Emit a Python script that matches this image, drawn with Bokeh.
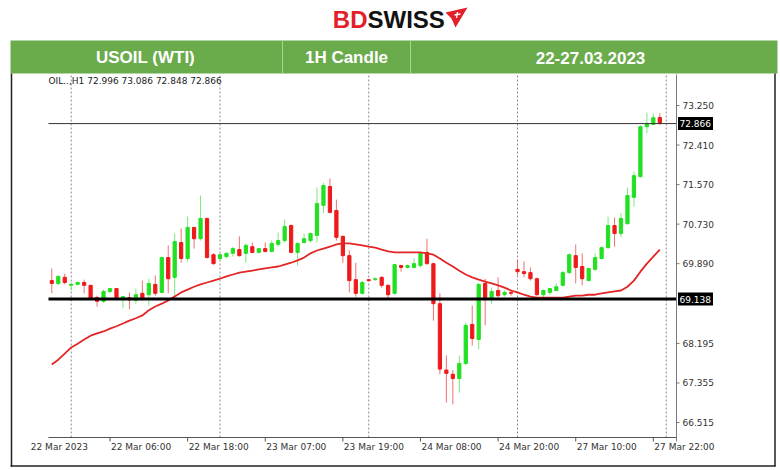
from bokeh.plotting import figure
from bokeh.models import Range1d, ColumnDataSource
from bokeh.core.properties import value
from bokeh.embed import file_html
from bokeh.resources import INLINE

# ---------------- data ----------------
bar_index = list(range(-3, 92))
opens = [69.53, 69.47, 69.60, 69.43, 69.45, 69.49, 69.43, 69.17, 69.09, 69.30,
         69.36, 69.15, 69.17, 69.11, 69.26, 69.23, 69.45, 69.28, 70.02, 69.60,
         70.34, 70.00, 70.66, 70.42, 70.85, 70.08, 70.00, 70.04, 70.11, 70.19,
         70.11, 70.25, 70.13, 70.21, 70.15, 70.30, 70.38, 70.70, 70.13, 70.34,
         70.38, 70.49, 71.13, 71.53, 71.02, 70.47, 70.06, 69.55, 69.26, 69.55,
         69.55, 69.60, 69.43, 69.26, 69.85, 69.81, 69.81, 69.85, 70.13, 69.89,
         69.04, 67.63, 67.54, 67.45, 67.77, 68.60, 68.28, 69.47, 69.17, 69.32,
         69.23, 69.28, 69.77, 69.72, 69.70, 69.57, 69.23, 69.28, 69.32, 69.43,
         69.70, 70.06, 69.83, 69.53, 69.77, 70.00, 70.23, 70.70, 70.53, 70.74,
         71.30, 71.74, 72.80, 72.85, 72.996]
highs = [69.79, 69.64, 69.68, 69.49, 69.51, 69.55, 69.44, 69.21, 69.34, 69.38,
         69.37, 69.21, 69.28, 69.36, 69.53, 69.57, 69.64, 70.04, 70.28, 70.53,
         70.64, 70.89, 70.67, 71.34, 70.87, 70.11, 70.11, 70.13, 70.25, 70.47,
         70.32, 70.34, 70.23, 70.34, 70.38, 70.55, 70.83, 70.72, 70.34, 70.53,
         70.55, 71.51, 71.61, 71.70, 71.25, 70.49, 70.17, 69.91, 69.53, 69.57,
         69.60, 69.62, 69.45, 69.89, 69.87, 69.87, 70.00, 70.13, 70.42, 69.91,
         69.26, 67.94, 67.63, 67.94, 68.64, 69.00, 69.49, 69.57, 69.38, 69.60,
         69.32, 69.34, 69.98, 69.94, 69.81, 69.60, 69.34, 69.38, 69.47, 69.74,
         70.11, 70.30, 70.11, 69.80, 70.11, 70.25, 70.89, 70.87, 70.96, 71.51,
         71.85, 72.83, 73.10, 73.08, 73.086]
lows = [69.26, 69.43, 69.45, 69.32, 69.43, 69.26, 69.13, 68.98, 69.06, 69.26,
        69.15, 68.94, 68.92, 69.04, 69.11, 69.00, 69.21, 69.26, 69.26, 69.17,
        69.91, 69.94, 70.21, 70.38, 70.00, 69.87, 69.94, 70.00, 70.04, 70.04,
        69.91, 70.11, 70.11, 70.13, 70.13, 70.25, 70.34, 70.11, 69.85, 70.32,
        70.34, 70.34, 70.96, 70.96, 70.38, 69.91, 69.28, 69.19, 69.23, 69.51,
        69.53, 69.38, 69.15, 69.23, 69.72, 69.79, 69.79, 69.81, 69.87, 68.68,
        67.54, 66.94, 66.90, 67.15, 67.73, 68.15, 68.07, 68.58, 69.04, 69.17,
        69.19, 69.21, 69.64, 69.60, 69.53, 69.21, 69.17, 69.23, 69.30, 69.40,
        69.68, 69.47, 69.43, 69.51, 69.74, 69.98, 70.21, 70.25, 70.45, 70.72,
        71.10, 71.72, 72.66, 72.83, 72.848]
closes = [69.47, 69.62, 69.49, 69.45, 69.49, 69.43, 69.15, 69.09, 69.30, 69.36,
          69.17, 69.19, 69.12, 69.23, 69.15, 69.47, 69.26, 70.02, 69.57, 70.36,
          70.00, 70.66, 70.42, 70.85, 70.02, 69.89, 70.08, 70.11, 70.21, 70.06,
          70.28, 70.13, 70.21, 70.15, 70.32, 70.38, 70.68, 70.13, 70.32, 70.42,
          70.53, 71.17, 71.55, 70.98, 70.45, 70.06, 69.53, 69.26, 69.49, 69.53,
          69.57, 69.43, 69.23, 69.87, 69.81, 69.85, 69.89, 70.11, 69.89, 69.04,
          67.65, 67.56, 67.45, 67.77, 68.58, 68.30, 69.45, 69.17, 69.30, 69.21,
          69.28, 69.26, 69.72, 69.68, 69.57, 69.23, 69.32, 69.36, 69.40, 69.70,
          70.08, 69.81, 69.57, 69.79, 70.02, 70.23, 70.70, 70.53, 70.85, 71.34,
          71.76, 72.80, 72.87, 72.99, 72.866]
ma_values = [67.75, 67.85, 67.98, 68.11, 68.19, 68.28, 68.36, 68.41, 68.45, 68.51,
             68.56, 68.62, 68.68, 68.73, 68.79, 68.90, 68.98, 69.04, 69.11, 69.19,
             69.28, 69.34, 69.40, 69.45, 69.49, 69.53, 69.57, 69.62, 69.66, 69.70,
             69.72, 69.74, 69.77, 69.79, 69.81, 69.83, 69.87, 69.91, 69.96, 70.02,
             70.11, 70.17, 70.21, 70.25, 70.30, 70.32, 70.32, 70.30, 70.28, 70.25,
             70.23, 70.19, 70.15, 70.13, 70.13, 70.13, 70.13, 70.13, 70.11, 70.08,
             70.00, 69.91, 69.83, 69.74, 69.66, 69.60, 69.55, 69.51, 69.47, 69.43,
             69.38, 69.32, 69.28, 69.23, 69.19, 69.17, 69.17, 69.17, 69.17, 69.17,
             69.19, 69.21, 69.21, 69.23, 69.23, 69.26, 69.28, 69.30, 69.32, 69.40,
             69.53, 69.72, 69.89, 70.04, 70.19]
day_starts = [0, 23, 46, 69, 92]
time_ticks = [-6.4, 6, 18, 30, 42, 54, 66, 78, 90]
time_labels = ["22 Mar 2023", "22 Mar 06:00", "22 Mar 18:00", "23 Mar 07:00", "23 Mar 19:00",
               "24 Mar 08:00", "24 Mar 20:00", "27 Mar 10:00", "27 Mar 22:00"]
price_ticks = [73.250, 72.410, 71.570, 70.730, 69.890, 68.195, 67.355, 66.515]
last_price = 72.866
level_line = 69.138
symbol_text = "OIL..,H1"
header_cells = ["USOIL (WTI)", "1H Candle", "22-27.03.2023"]

# ---------------- layout ----------------
W, H = 780, 470
CH_L, CH_R, CH_T, CH_B = 48, 676, 74, 437          # chart area (pixels)
BAR_MIN, BAR_MAX = -3.51, 93.58                    # visible bar range
PRICE_MIN, PRICE_MAX = 66.197, 73.909              # visible price range
xs = (BAR_MAX - BAR_MIN) / (CH_R - CH_L)
ys = (PRICE_MAX - PRICE_MIN) / (CH_B - CH_T)

p = figure(width=W, height=H, min_border=0, x_axis_type=None, y_axis_type=None,
           output_backend="svg", toolbar_location=None,
           x_range=Range1d(BAR_MIN - CH_L * xs, BAR_MAX + (W - CH_R) * xs),
           y_range=Range1d(PRICE_MIN - (H - CH_B) * ys, PRICE_MAX + CH_T * ys))
p.extra_x_ranges = {"px": Range1d(0, W)}
p.extra_y_ranges = {"px": Range1d(H, 0)}
p.outline_line_color = None
p.background_fill_color = "white"
p.border_fill_color = "white"

PX = dict(x_range_name="px", y_range_name="px")
FONT_SMALL = dict(text_font=value("DejaVu Sans"), text_font_size=value("9px"))

# day separators
p.segment(x0=day_starts, x1=day_starts, y0=[PRICE_MIN] * len(day_starts),
          y1=[PRICE_MAX] * len(day_starts), line_color="#8a8a8a", line_dash="2 2", line_width=1)

# candles
bull = [c >= o for o, c in zip(opens, closes)]
src = ColumnDataSource(dict(
    x=bar_index, h=highs, l=lows,
    top=[max(o, c) for o, c in zip(opens, closes)],
    bottom=[min(o, c) for o, c in zip(opens, closes)],
    body=["#22e022" if b else "#ee1a1a" for b in bull],
    wick=["#7be87b" if b else "#f07070" for b in bull],
))
p.segment(x0="x", y0="h", x1="x", y1="l", line_color="wick", line_width=1, source=src)
p.vbar(x="x", width=0.5, top="top", bottom="bottom", fill_color="body",
       line_color="body", line_width=1, source=src)

# moving average
p.line(bar_index, ma_values, line_color="#e42525", line_width=1.8)

# horizontal levels
p.segment(x0=[BAR_MIN], x1=[BAR_MAX], y0=[last_price], y1=[last_price],
          line_color="#333333", line_width=1)
p.segment(x0=[BAR_MIN], x1=[BAR_MAX], y0=[level_line], y1=[level_line],
          line_color="black", line_width=3)

# price axis (right)
p.segment(x0=[CH_R], x1=[CH_R], y0=[CH_T], y1=[CH_B + 4], line_color="#7a7a7a", **PX)
p.segment(x0=[CH_R] * len(price_ticks), x1=[CH_R + 3] * len(price_ticks),
          y0=price_ticks, y1=price_ticks, line_color="#7a7a7a", x_range_name="px")
p.text(x=[CH_R + 6] * len(price_ticks), y=price_ticks, text=[f"{t:.3f}" for t in price_ticks],
       text_align="left", text_baseline="middle", text_color="#333333",
       x_range_name="px", **FONT_SMALL)

# price tags
levels = [last_price, level_line]
p.rect(x=[CH_R + 19] * 2, y=levels, width=35, height=13, height_units="screen",
       fill_color="black", line_color=None, x_range_name="px")
p.text(x=[CH_R + 3] * 2, y=levels, text=[f"{v:.3f}" for v in levels],
       text_align="left", text_baseline="middle", text_color="white",
       x_range_name="px", **FONT_SMALL)

# time axis (bottom)
vis_ticks = [t for t in time_ticks if BAR_MIN <= t <= BAR_MAX]
p.segment(x0=[CH_L], x1=[CH_R], y0=[CH_B], y1=[CH_B], line_color="#555555", **PX)
p.segment(x0=vis_ticks, x1=vis_ticks, y0=[CH_B] * len(vis_ticks), y1=[CH_B + 4] * len(vis_ticks),
          line_color="#555555", y_range_name="px")
p.text(x=time_ticks, y=[CH_B + 9.5] * len(time_ticks), text=time_labels, x_offset=1,
       text_align="left", text_baseline="middle", text_color="#333333",
       y_range_name="px", **FONT_SMALL)

# info line
info = f"{symbol_text}  {opens[-1]:.3f} {highs[-1]:.3f} {lows[-1]:.3f} {closes[-1]:.3f}"
p.text(x=[CH_L], y=[CH_T + 6], text=[info], text_align="left", text_baseline="middle",
       text_color="#222222", **FONT_SMALL, **PX)

# ---------------- decorations ----------------
green = "#6aab4c"
p.quad(left=[10], right=[777], top=[40], bottom=[73], fill_color=green, line_color=None, **PX)
p.segment(x0=[282, 410], x1=[282, 410], y0=[40, 40], y1=[73, 73],
          line_color="#a8d493", line_width=1, **PX)
p.text(x=[145, 346, 590], y=[57, 57, 57], text=header_cells, text_align="center",
       text_baseline="middle", text_color="white", text_font=value("Liberation Sans"),
       text_font_style="bold", text_font_size=value("17px"), **PX)

# outer frame
p.segment(x0=[11, 774.5, 10], x1=[11, 774.5, 775], y0=[73, 73, 465.5], y1=[466, 466, 465.5],
          line_color="#222222", line_width=1.5, **PX)

# logo
p.text(x=[367], y=[18.5], text=["BD"], text_align="right", text_baseline="middle",
       text_color="#e3202a", text_font=value("Liberation Sans"), text_font_style="bold",
       text_font_size=value("24px"), **PX)
p.text(x=[367], y=[18.5], text=["SWISS"], text_align="left", text_baseline="middle",
       text_color="#111111", text_font=value("Liberation Sans"), text_font_style="bold",
       text_font_size=value("24px"), **PX)
p.patch(x=[445, 467, 455, 451], y=[12, 7, 27, 18], fill_color="#e3202a", line_color=None, **PX)
p.segment(x0=[454, 457], x1=[460, 456], y0=[14.5, 11.5], y1=[13.5, 17.5],
          line_color="white", line_width=1.3, **PX)

open("out.html", "w").write(file_html(p, INLINE))
